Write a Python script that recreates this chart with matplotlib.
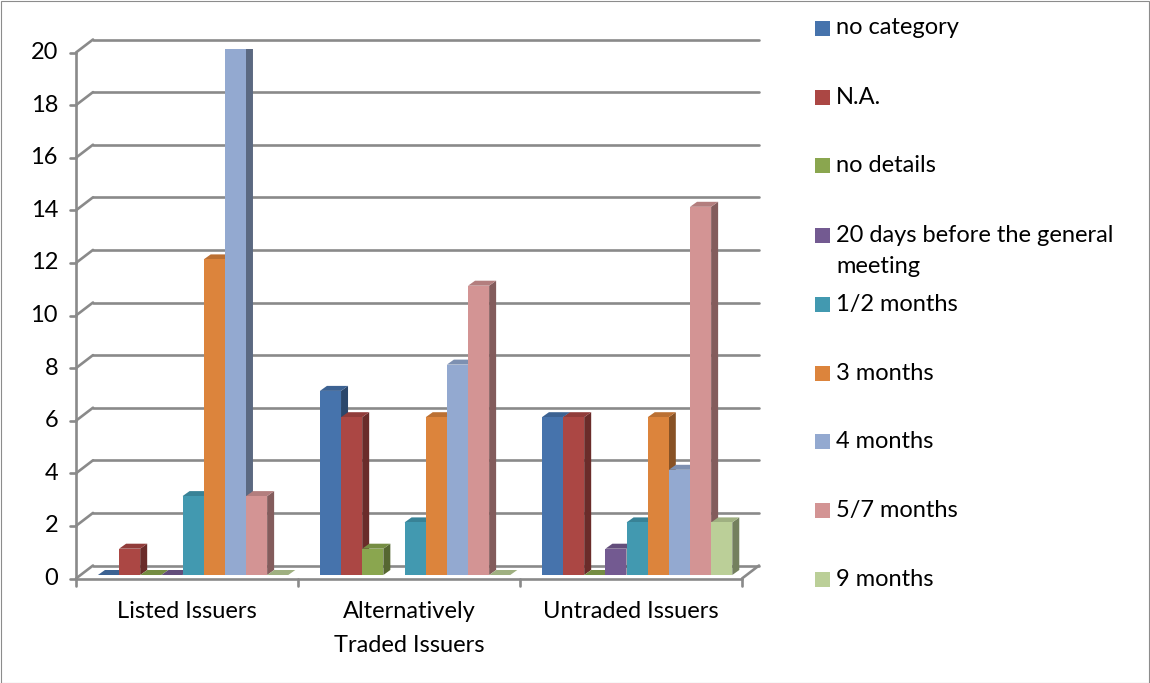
import numpy as np
import matplotlib
matplotlib.use("Agg")
from matplotlib import pyplot as plt
from matplotlib.patches import Polygon, Rectangle

plt.rcParams['font.family'] = ['Lato', 'DejaVu Sans']

# ---------------------------- data ----------------------------
categories = ["Listed Issuers", "Alternatively\nTraded Issuers", "Untraded Issuers"]
series = ["no category", "N.A.", "no details", "20 days before the general\nmeeting",
          "1/2 months", "3 months", "4 months", "5/7 months", "9 months"]
no_category = [0, 7, 6]
na = [1, 6, 6]
no_details = [0, 1, 0]
days_20 = [0, np.nan, 1]
months_half = [3, 2, 2]
months_3 = [12, 6, 6]
months_4 = [20, 8, 4]
months_5_7 = [3, 11, 14]
months_9 = [0, 0, 2]
values = [no_category, na, no_details, days_20, months_half,
          months_3, months_4, months_5_7, months_9]
colors = ["#4673AC", "#AB4744", "#8AA64F", "#735A91", "#4299B0",
          "#DC843C", "#93A9D0", "#D39494", "#BBCF98"]
yticks = np.arange(0, 21, 2)

# ---------------------------- layout (pixels) ----------------------------
W, H = 1150, 683
FS = 17
fig = plt.figure(figsize=(W / 100, H / 100), dpi=100)
ax_left, ax_bottom, ax_w, ax_h = 81, 575, 666, 526
ax = fig.add_axes([ax_left / W, (H - ax_bottom) / H, ax_w / W, ax_h / H])
ax.set_xlim(0, 3)
ax.set_ylim(0, 20)
ax.axis("off")

px = 3 / ax_w      # data units per pixel, x
py = 20 / ax_h     # data units per pixel, y
front = (-5 * px, -3.5 * py)
back = (12 * px, 9.5 * py)
depth = (7 * px, 5 * py)
grid_kw = dict(color="#8a8a8a", lw=1.9, clip_on=False, solid_capstyle="round")
ylab_tr = matplotlib.transforms.blended_transform_factory(fig.transFigure, ax.transData)


def shade(c, f):
    r, g, b = matplotlib.colors.to_rgb(c)
    return (r * f, g * f, b * f)


# back gridlines + diagonal stubs to the front axis
for v in yticks:
    ax.plot([0 + back[0], 3 + back[0]], [v + back[1], v + back[1]], zorder=1, **grid_kw)
    ax.plot([front[0], back[0]], [v + front[1], v + back[1]], zorder=1, **grid_kw)
    ax.plot([front[0] - 6 * px, front[0]], [v + front[1], v + front[1]], zorder=1, **grid_kw)
    fig.text((ax_left - 23) / W, v + front[1], "%d" % v, ha="right", va="center",
             fontsize=FS, transform=ylab_tr)

# floor
ax.plot([front[0], 3 + front[0]], [front[1], front[1]], zorder=1, **grid_kw)
ax.plot([3 + front[0], 3 + back[0]], [front[1], back[1]], zorder=1, **grid_kw)
ax.plot([front[0], front[0]], [front[1], 20 + front[1]], zorder=1, **grid_kw)
for c in range(4):
    ax.plot([c + front[0], c + front[0]], [front[1], front[1] - 7 * py], zorder=1, **grid_kw)

# bars
bw = 0.095
step = 0.0953
z = 2
for i, (vals, col) in enumerate(zip(values, colors)):
    for c, v in enumerate(vals):
        if np.isnan(v):
            continue
        x0 = c + 0.505 + (i - 4) * step - bw / 2
        x1 = x0 + bw
        side = Polygon([(x1, 0), (x1 + depth[0], depth[1]), (x1 + depth[0], v + depth[1]), (x1, v)],
                       closed=True, fc=shade(col, 0.62), ec="none", zorder=z)
        top = Polygon([(x0, v), (x1, v), (x1 + depth[0], v + depth[1]), (x0 + depth[0], v + depth[1])],
                      closed=True, fc=shade(col, 0.85), ec="none", zorder=z)
        ax.add_patch(side)
        ax.add_patch(top)
        ax.bar(x0, v, width=bw, align="edge", color=col, zorder=z + 0.5)
        z += 1

# category labels
for c, lab in enumerate(categories):
    xc = (ax_left - 5 + (c + 0.5) * ax_w / 3) / W
    for k, line in enumerate(lab.split("\n")):
        fig.text(xc, 1 - (612 + 33 * k) / H, line, ha="center", va="center", fontsize=FS)

# legend
leg_y = [28, 97, 165, 236, 304, 373, 441, 510, 579]
for name, col, y in zip(series, colors, leg_y):
    fig.patches.append(Rectangle((815 / W, 1 - (y + 7.5) / H), 15 / W, 15 / H,
                                 transform=fig.transFigure, fc=col, ec="none"))
    for k, line in enumerate(name.split("\n")):
        fig.text(836 / W, 1 - (y + 30 * k) / H, line, ha="left", va="center", fontsize=FS)

# outer border
fig.patches.append(Rectangle((0.5 / W, 0.5 / H), (W - 1.5) / W, (H - 1.5) / H,
                             transform=fig.transFigure, fill=False, ec="#8c8c8c", lw=0.8))

fig.savefig("out.png", dpi=100)
